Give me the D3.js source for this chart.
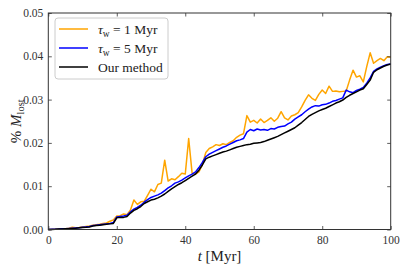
<!DOCTYPE html>
<html><head><meta charset="utf-8">
<script src="https://cdn.jsdelivr.net/npm/d3@7"></script>
<style>
body{margin:0;background:#fff;}
svg{display:block;}
text{font-family:"Liberation Serif","Times New Roman",serif;}
</style></head>
<body><svg id="c" width="407" height="270"></svg>
<script>
const times = d3.range(0, 101);
const ourMethod = [0,0.00002,0.00005,0.0001,0.00013,0.00017,0.0002,0.00025,0.0003,0.00038,0.00045,0.0005,0.0006,0.0008,0.0009,0.001,0.0011,0.0012,0.0013,0.0014,0.0027,0.0028,0.0028,0.003,0.0038,0.0044,0.0048,0.0053,0.006,0.0064,0.0068,0.007,0.0073,0.0077,0.0082,0.0088,0.0094,0.0099,0.0104,0.0108,0.0113,0.0118,0.0123,0.0128,0.0137,0.0149,0.0163,0.0167,0.017,0.0173,0.0176,0.0179,0.0181,0.0184,0.0187,0.019,0.0192,0.0194,0.0196,0.0197,0.0199,0.02,0.0201,0.0203,0.0206,0.0209,0.0212,0.0215,0.0219,0.0223,0.0227,0.0231,0.0235,0.0241,0.0247,0.0254,0.0261,0.0266,0.027,0.0274,0.0277,0.028,0.0284,0.0288,0.0292,0.0295,0.0299,0.0305,0.031,0.0314,0.0318,0.0322,0.0325,0.0335,0.0345,0.0363,0.0369,0.0373,0.0377,0.038,0.0382];
const tau5 = [0,0.00003,0.00007,0.0001,0.00015,0.0002,0.00025,0.0003,0.00035,0.0004,0.0005,0.0006,0.0007,0.0009,0.001,0.0011,0.0012,0.0013,0.0014,0.0016,0.0029,0.003,0.0031,0.0033,0.0041,0.0047,0.0051,0.0056,0.0063,0.0069,0.0074,0.0077,0.008,0.0084,0.009,0.0096,0.0101,0.0107,0.011,0.0114,0.0119,0.0124,0.0128,0.0133,0.0143,0.0155,0.0168,0.0174,0.0178,0.0182,0.0186,0.019,0.0193,0.0197,0.0201,0.0205,0.0207,0.021,0.0225,0.0231,0.0228,0.0232,0.023,0.0231,0.0229,0.0233,0.0232,0.0236,0.0238,0.0239,0.0244,0.0248,0.0255,0.026,0.0265,0.0272,0.0278,0.0283,0.0286,0.0285,0.0288,0.0289,0.0292,0.0296,0.0298,0.0301,0.0304,0.0322,0.0318,0.0316,0.0321,0.0324,0.0328,0.0338,0.035,0.0365,0.0371,0.0375,0.0378,0.0381,0.0382];
const tau1 = [0,0.00003,0.00008,0.00012,0.00015,0.0002,0.0003,0.0005,0.0004,0.00045,0.0006,0.0007,0.0008,0.001,0.0011,0.0012,0.0014,0.0015,0.0019,0.0022,0.0031,0.0032,0.0036,0.0034,0.0045,0.0068,0.0058,0.0064,0.0065,0.0079,0.0093,0.0087,0.0104,0.0107,0.016,0.0112,0.0117,0.0115,0.0122,0.013,0.0128,0.021,0.013,0.0128,0.0133,0.015,0.0178,0.0187,0.0191,0.0196,0.0194,0.0198,0.0196,0.0201,0.0205,0.0213,0.0218,0.0221,0.0263,0.0248,0.0252,0.0246,0.0255,0.0247,0.0252,0.0258,0.025,0.0257,0.0272,0.0258,0.0253,0.0262,0.0265,0.027,0.0283,0.0298,0.0311,0.0303,0.0298,0.0312,0.0322,0.0314,0.0331,0.0319,0.032,0.0318,0.0319,0.032,0.0345,0.0368,0.0352,0.0355,0.0341,0.0376,0.0408,0.0384,0.039,0.0395,0.039,0.0399,0.0398];
const xTicks = [0,20,40,60,80,100];
const yTicks = [0,0.01,0.02,0.03,0.04,0.05];
const seriesNames = ["τw1","τw5","ours"];
const seriesColors = ["#FFA500","#0000FF","#000000"];

const svg = d3.select("#c");
const L=48.3, R=390.7, T=13, B=229.5;
const x = d3.scaleLinear().domain([0,100]).range([L,R]);
const y = d3.scaleLinear().domain([0,0.05]).range([B,T]);

const line = d3.line().x((d,i)=>x(times[i])).y(d=>y(d));
const data = [tau1, tau5, ourMethod];
const g = svg.append("g");
data.forEach((s,k)=>{
  g.append("path").datum(s).attr("d",line).attr("fill","none")
   .attr("stroke",seriesColors[k]).attr("stroke-width",1.5).attr("stroke-linejoin","round");
});

const axCol="#333";
function styleAxis(sel, labels){
  sel.select(".domain").remove();
  sel.selectAll("line").attr("stroke",axCol).attr("stroke-width",0.8);
  sel.selectAll("text").attr("fill",axCol).style("font-size","11.5px").style("font-family","Liberation Serif, serif");
  if(!labels) sel.selectAll("text").remove();
}
const xa = svg.append("g").attr("transform",`translate(0,${B})`)
  .call(d3.axisBottom(x).tickValues(xTicks).tickSizeInner(-3.5).tickSizeOuter(0).tickPadding(6).tickFormat(d3.format("d")));
styleAxis(xa,true);
const xt = svg.append("g").attr("transform",`translate(0,${T})`)
  .call(d3.axisTop(x).tickValues(xTicks).tickSizeInner(-3.5).tickSizeOuter(0));
styleAxis(xt,false);
const ya = svg.append("g").attr("transform",`translate(${L},0)`)
  .call(d3.axisLeft(y).tickValues(yTicks).tickSizeInner(-3.5).tickSizeOuter(0).tickPadding(5).tickFormat(d3.format(".2f")));
styleAxis(ya,true);
const yr = svg.append("g").attr("transform",`translate(${R},0)`)
  .call(d3.axisRight(y).tickValues(yTicks).tickSizeInner(-3.5).tickSizeOuter(0));
styleAxis(yr,false);

svg.append("rect").attr("x",L).attr("y",T).attr("width",R-L).attr("height",B-T)
  .attr("fill","none").attr("stroke",axCol).attr("stroke-width",1);

// x label
const xl = svg.append("text").attr("x",(L+R)/2).attr("y",261).attr("text-anchor","middle")
  .style("font-size","15px").attr("fill","#222");
xl.append("tspan").style("font-style","italic").text("t");
xl.append("tspan").text(" [Myr]");

// y label
const yl = svg.append("text").attr("transform",`translate(21,${(T+B)/2}) rotate(-90)`).attr("text-anchor","middle")
  .style("font-size","15px").attr("fill","#222");
yl.append("tspan").text("% ");
yl.append("tspan").style("font-style","italic").text("M");
yl.append("tspan").attr("dy",3).style("font-size","10.5px").text("lost");

// legend
const lg = svg.append("g");
lg.append("rect").attr("x",55).attr("y",18).attr("width",113).attr("height",61).attr("rx",3)
  .attr("fill","#fff").attr("fill-opacity",0.8).attr("stroke","#ccc").attr("stroke-width",1);
const labels = [["1"],["5"],null];
const rowsY = [29,48,67];
data.forEach((s,k)=>{
  lg.append("line").attr("x1",59).attr("x2",88).attr("y1",rowsY[k]).attr("y2",rowsY[k])
    .attr("stroke",seriesColors[k]).attr("stroke-width",1.5);
  const t = lg.append("text").attr("x",98).attr("y",rowsY[k]+4.5).style("font-size","13.5px").attr("fill","#222");
  if(labels[k]){
    t.append("tspan").style("font-style","italic").text("τ");
    t.append("tspan").attr("dy",3).style("font-size","9.5px").text("w");
    t.append("tspan").attr("dy",-3).text(" = " + labels[k][0] + " Myr");
  } else {
    t.text("Our method");
  }
});
</script></body></html>
